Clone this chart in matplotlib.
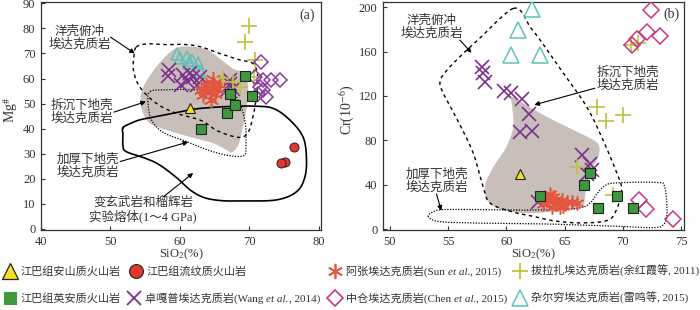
import numpy as np
import matplotlib
matplotlib.use("Agg")
import matplotlib.pyplot as plt
from matplotlib.lines import Line2D

plt.rcParams['font.family'] = ['Liberation Serif', 'Noto Sans CJK SC', 'DejaVu Sans']
plt.rcParams['mathtext.fontset'] = 'stix'

# ---------------- data: panel (a) SiO2 vs Mg# ----------------
a_andesite_x = [61.4]
a_andesite_y = [48.1]
a_rhyolite_x = [76.45, 75.07, 74.6]
a_rhyolite_y = [32.6, 26.9, 26.4]
a_dacite_x = [63.0, 66.7, 67.2, 67.9, 69.3, 70.4]
a_dacite_y = [39.7, 46.1, 53.8, 49.4, 60.8, 53.1]
a_azhang_x = [63.1, 63.8, 64.8, 64.3, 63.3, 65.3, 65.7, 64.5, 64.0, 65.0, 64.8, 63.6]
a_azhang_y = [55.4, 57.4, 58.0, 54.7, 53.4, 56.0, 57.4, 51.4, 56.7, 54.0, 60.0, 55.0]
a_zhuogapu_x = [58.4, 58.3, 60.5, 61.4, 61.9, 60.2, 62.85, 62.4, 61.0, 67.2, 66.7, 67.6, 67.2]
a_zhuogapu_y = [63.4, 61.0, 61.4, 62.3, 60.7, 57.4, 60.4, 57.4, 59.0, 58.0, 55.4, 56.0, 59.4]
a_zhongcang_x = [71.7, 70.75, 72.0, 73.1, 74.35, 72.0, 71.2, 72.4, 71.5]
a_zhongcang_y = [66.7, 60.7, 59.4, 59.4, 59.4, 55.4, 54.0, 52.7, 56.8]
a_balazha_x = [70.0, 69.3, 70.8, 66.2, 67.7, 68.6, 70.7]
a_balazha_y = [81.0, 74.5, 67.4, 60.2, 58.7, 56.7, 60.7]
a_zaerqiong_x = [59.6, 61.0, 61.8, 62.6, 62.9, 60.0, 61.3]
a_zaerqiong_y = [69.8, 68.7, 67.4, 66.1, 62.8, 68.1, 66.1]

# field outlines (a)
a_delam_x = [54.3, 54.8, 56.6, 59.0, 61.0, 63.8, 65.7, 67.6, 69.3, 69.8, 69.6, 69.0, 68.4, 67.5, 66.7, 64.8, 62.4, 58.6, 55.7, 54.6]
a_delam_y = [51.5, 57.0, 64.7, 71.4, 72.8, 71.6, 68.0, 64.0, 62.0, 56.7, 48.0, 40.0, 33.5, 30.6, 31.5, 34.2, 36.0, 39.0, 42.1, 47.0]
a_slab_x = [53.7, 55.2, 58.1, 60.5, 62.9, 65.7, 68.6, 70.5, 71.2, 71.0, 70.5, 69.8, 68.5, 65.5, 63.0, 59.5, 56.6, 54.2, 53.3, 53.4]
a_slab_y = [72.5, 73.8, 73.5, 73.6, 72.7, 70.0, 67.4, 66.0, 60.7, 52.7, 44.7, 38.5, 36.5, 39.0, 43.3, 46.1, 50.1, 56.7, 63.4, 69.0]
a_thick_x = [55.7, 58.0, 62.0, 67.2, 68.6, 69.4, 69.5, 69.2, 67.2, 64.3, 61.0, 57.6, 55.9, 55.4]
a_thick_y = [54.8, 55.5, 55.5, 54.1, 50.1, 42.1, 33.0, 29.3, 29.2, 31.2, 34.8, 38.5, 43.5, 50.5]
a_melt_x = [51.8, 53.0, 54.2, 56.5, 58.6, 61.4, 63.4, 66.7, 70.5, 73.4, 75.8, 77.7, 78.2, 78.0, 76.8, 73.9, 69.1, 66.0, 63.5, 61.5, 59.5, 57.1, 55.2, 52.3, 51.8, 51.8]
a_melt_y = [40.4, 42.2, 43.5, 44.8, 45.9, 47.5, 48.2, 48.8, 49.0, 48.1, 43.5, 36.8, 28.8, 20.9, 14.9, 11.6, 11.2, 11.3, 12.5, 15.5, 20.5, 25.5, 28.0, 30.8, 33.0, 37.5]

# ---------------- data: panel (b) SiO2 vs Cr ----------------
b_andesite_x = [61.17]
b_andesite_y = [50.0]
b_dacite_x = [62.9, 66.67, 67.18, 67.87, 69.47, 70.9]
b_dacite_y = [29.5, 40.0, 50.6, 19.3, 29.5, 19.3]
b_azhang_x = [63.17, 63.6, 64.03, 64.3, 64.75, 65.18, 65.6, 66.04, 63.9, 64.6, 63.75, 64.2, 63.4, 64.9]
b_azhang_y = [22.9, 25.9, 28.9, 22.9, 25.9, 24.4, 24.4, 23.5, 19.9, 19.9, 31.9, 26.5, 27.0, 21.0]
b_zhuogapu_x = [57.88, 57.96, 58.16, 59.8, 60.37, 61.3, 61.97, 61.17, 62.2, 66.5, 67.2, 67.33, 66.95, 62.74]
b_zhuogapu_y = [146.4, 141.0, 132.8, 124.7, 122.9, 116.9, 104.2, 87.7, 88.3, 66.6, 59.0, 53.0, 50.0, 24.4]
b_zhongcang_x = [72.42, 73.2, 72.05, 71.25, 70.76, 71.4, 71.99, 74.34]
b_zhongcang_y = [197.6, 174.0, 178.0, 171.0, 166.0, 26.0, 18.4, 9.3]
b_balazha_x = [67.75, 68.6, 69.99, 66.04, 69.2, 70.7, 71.3]
b_balazha_y = [110.0, 97.6, 103.3, 56.0, 31.0, 166.0, 168.0]
b_zaerqiong_x = [62.17, 60.97, 60.4, 62.9]
b_zaerqiong_y = [198.2, 179.5, 157.0, 157.0]

# field outlines (b)
b_delam_x = [60.45, 61.45, 63.46, 65.75, 67.47, 67.98, 67.9, 67.47, 67.0, 66.75, 66.5, 64.9, 62.0, 59.6, 58.4, 58.16, 58.9, 60.0, 60.6, 60.5]
b_delam_y = [119.4, 113.4, 101.3, 89.3, 80.3, 74.2, 65.2, 56.2, 44.2, 29.1, 19.5, 17.0, 14.3, 17.5, 25.5, 39.0, 56.2, 74.2, 92.3, 110.3]
b_slab_x = [60.6, 61.3, 62.0, 62.9, 64.9, 66.9, 68.3, 69.5, 69.9, 69.4, 68.6, 66.3, 64.0, 62.5, 60.5, 58.6, 58.0, 57.16, 55.87, 54.6, 54.3, 54.9, 56.3, 58.0, 59.45]
b_slab_y = [199.0, 196.0, 183.0, 170.5, 140.5, 110.3, 80.3, 50.2, 35.2, 16.0, 7.5, 5.5, 7.5, 11.0, 15.5, 23.4, 38.2, 68.3, 96.8, 122.0, 133.0, 143.4, 158.4, 175.0, 190.0]
b_thick_x = [53.3, 53.7, 54.6, 57.7, 61.0, 64.0, 66.3, 67.2, 67.8, 68.4, 69.3, 72.9, 73.6, 73.8, 73.5, 72.6, 69.5, 63.5, 57.7, 54.3]
b_thick_y = [11.0, 15.5, 17.5, 17.5, 17.0, 17.5, 19.0, 23.5, 32.0, 38.5, 41.5, 42.0, 38.0, 14.0, 4.0, 1.2, 2.5, 4.5, 5.3, 6.6]

# ---------------- legend labels (pieces: text, italic?) ----------------
lab_andesite = [('江巴组安山质火山岩', False)]
lab_dacite = [('江巴组英安质火山岩', False)]
lab_rhyolite = [('江巴组流纹质火山岩', False)]
lab_zhuogapu = [('卓嘎普埃达克质岩(Wang ', False), ('et al.', True), (', 2014)', False)]
lab_azhang = [('阿张埃达克质岩(Sun ', False), ('et al.', True), (', 2015)', False)]
lab_zhongcang = [('中仓埃达克质岩(Chen ', False), ('et al.', True), (', 2015)', False)]
lab_balazha = [('拔拉扎埃达克质岩(余红霞等, 2011)', False)]
lab_zaerqiong = [('杂尔穷埃达克质岩(雷鸣等, 2015)', False)]

# ---------------- styles ----------------
C_YEL = '#f5e11c'
C_RED = '#e8352b'
C_GRN = '#3a9a3c'
C_AST = '#e4553f'
C_PUR = '#7b2f8f'
C_DIA_A = '#8a3aa0'
C_DIA_B = '#cc3585'
C_PLUS = '#bcc43a'
C_CYAN = '#5cc3b8'
C_GRAY = '#c9bfba'
TXT = '#333333'
AST = (6, 2, 0)


def closed_spline(xs, ys, n=24):
    P = np.column_stack([xs, ys]).astype(float)
    N = len(P)
    t = np.linspace(0, 1, n, endpoint=False)[:, None]
    out = []
    for i in range(N):
        p0, p1, p2, p3 = P[(i - 1) % N], P[i], P[(i + 1) % N], P[(i + 2) % N]
        pts = 0.5 * ((2 * p1) + (-p0 + p2) * t + (2 * p0 - 5 * p1 + 4 * p2 - p3) * t ** 2
                     + (-p0 + 3 * p1 - 3 * p2 + p3) * t ** 3)
        out.append(pts)
    out = np.vstack(out + [P[:1]])
    return out[:, 0], out[:, 1]


fig = plt.figure(figsize=(7.0, 3.1), dpi=100)
axA = fig.add_axes([41 / 700, 80 / 310, 280 / 700, 228 / 310])
axB = fig.add_axes([383 / 700, 80 / 310, 301 / 700, 228 / 310])

for ax in (axA, axB):
    ax.tick_params(direction='in', length=3, width=0.8, labelsize=9, colors=TXT, pad=4)
    for s in ax.spines.values():
        s.set_linewidth(0.9)
        s.set_color('#333333')

# ---------- panel (a) ----------
ax = axA
x, y = closed_spline(a_delam_x, a_delam_y)
ax.fill(x, y, color=C_GRAY, lw=0, zorder=1)
x, y = closed_spline(a_slab_x, a_slab_y)
ax.plot(x, y, color='k', lw=1.0, ls=(0, (2.5, 2.5)), zorder=2)
x, y = closed_spline(a_thick_x, a_thick_y)
ax.plot(x, y, color='k', lw=0.9, ls=(0, (1, 1.2)), zorder=2)
x, y = closed_spline(a_melt_x, a_melt_y, n=16)
ax.plot(x, y, color='k', lw=1.2, zorder=2)

ax.plot(a_zaerqiong_x, a_zaerqiong_y, ls='none', marker='^', ms=9, mfc='none', mec=C_CYAN, mew=1.1, zorder=3)
ax.plot(a_zhuogapu_x, a_zhuogapu_y, ls='none', marker='x', ms=10, mec=C_PUR, mew=1.2, zorder=3)
ax.plot(a_azhang_x, a_azhang_y, ls='none', marker=AST, ms=11, mec=C_AST, mew=1.1, zorder=4)
ax.plot(a_balazha_x, a_balazha_y, ls='none', marker='+', ms=11, mec=C_PLUS, mew=1.2, zorder=4)
ax.plot(a_zhongcang_x, a_zhongcang_y, ls='none', marker='D', ms=7.5, mfc='none', mec=C_DIA_A, mew=1.1, zorder=4)
ax.plot(a_dacite_x, a_dacite_y, ls='none', marker='s', ms=6.5, mfc=C_GRN, mec='#222222', mew=0.8, zorder=5)
ax.plot(a_andesite_x, a_andesite_y, ls='none', marker='^', ms=6.5, mfc=C_YEL, mec='#222222', mew=0.8, zorder=5)
ax.plot(a_rhyolite_x, a_rhyolite_y, ls='none', marker='o', ms=6.5, mfc=C_RED, mec='#222222', mew=0.7, zorder=5)

arw = dict(arrowstyle='-|>', lw=0.8, color='k', mutation_scale=7, shrinkA=0, shrinkB=0)
tkw = dict(fontsize=9, color=TXT, ha='center', va='center', linespacing=1.05)
ax.text(45.6, 76.0, '洋壳俯冲\n埃达克质岩', **tkw)
ax.annotate('', xy=(53.5, 70.0), xytext=(50.0, 76.5), arrowprops=arw)
ax.text(45.9, 46.5, '拆沉下地壳\n埃达克质岩', **tkw)
ax.annotate('', xy=(55.1, 50.8), xytext=(50.5, 46.6), arrowprops=arw)
ax.text(46.8, 25.1, '加厚下地壳\n埃达克质岩', **tkw)
ax.annotate('', xy=(61.2, 34.7), xytext=(51.4, 26.9), arrowprops=arw)
ax.text(54.7, 7.6, '变玄武岩和榴辉岩\n实验熔体(1～4 GPa)', **tkw)
ax.annotate('', xy=(61.9, 22.3), xytext=(57.6, 12.8), arrowprops=arw)
ax.text(78.3, 85.3, '(a)', fontsize=10, color=TXT, ha='center', va='center')

ax.set_xlim(40, 80.3)
ax.set_ylim(-0.4, 90.5)
ax.set_xticks([40, 50, 60, 70, 80])
ax.set_yticks(range(0, 91, 10))

# ---------- panel (b) ----------
ax = axB
x, y = closed_spline(b_delam_x, b_delam_y)
ax.fill(x, y, color=C_GRAY, lw=0, zorder=1)
x, y = closed_spline(b_slab_x, b_slab_y)
ax.plot(x, y, color='k', lw=1.0, ls=(0, (2.5, 2.5)), zorder=2)
x, y = closed_spline(b_thick_x, b_thick_y)
ax.plot(x, y, color='k', lw=0.9, ls=(0, (1, 1.2)), zorder=2)

ax.plot(b_zaerqiong_x, b_zaerqiong_y, ls='none', marker='^', ms=11, mfc='none', mec=C_CYAN, mew=1.1, zorder=3)
ax.plot(b_zhuogapu_x, b_zhuogapu_y, ls='none', marker='x', ms=10, mec=C_PUR, mew=1.2, zorder=3)
ax.plot(b_azhang_x, b_azhang_y, ls='none', marker=AST, ms=10, mec=C_AST, mew=1.1, zorder=4)
ax.plot(b_balazha_x, b_balazha_y, ls='none', marker='+', ms=11, mec=C_PLUS, mew=1.2, zorder=4)
ax.plot(b_zhongcang_x, b_zhongcang_y, ls='none', marker='D', ms=8, mfc='none', mec=C_DIA_B, mew=1.1, zorder=4)
ax.plot(b_dacite_x, b_dacite_y, ls='none', marker='s', ms=6.5, mfc=C_GRN, mec='#222222', mew=0.8, zorder=5)
ax.plot(b_andesite_x, b_andesite_y, ls='none', marker='^', ms=6.5, mfc=C_YEL, mec='#222222', mew=0.8, zorder=5)

ax.text(53.6, 182, '洋壳俯冲\n埃达克质岩', **tkw)
ax.annotate('', xy=(57.0, 159), xytext=(56.0, 170.5), arrowprops=arw)
ax.text(70.4, 135, '拆沉下地壳\n埃达克质岩', **tkw)
ax.annotate('', xy=(62.4, 112), xytext=(67.6, 127), arrowprops=arw)
ax.text(54.0, 43, '加厚下地壳\n埃达克质岩', **tkw)
ax.annotate('', xy=(54.4, 16.5), xytext=(54.0, 31.5), arrowprops=arw)
ax.text(74.2, 194, '(b)', fontsize=10, color=TXT, ha='center', va='center')

ax.set_xlim(49.4, 75.26)
ax.set_ylim(-0.9, 204.8)
ax.set_xticks([50, 55, 60, 65, 70, 75])
ax.set_yticks(range(0, 201, 40))

# ---------- axis labels ----------
fig.text(181 / 700, 1 - 254 / 310, 'SiO$_2$(%)', fontsize=9, color=TXT, ha='center', va='center')
fig.text(533 / 700, 1 - 254 / 310, 'SiO$_2$(%)', fontsize=9, color=TXT, ha='center', va='center')
fig.text(11 / 700, 1 - 110 / 310, 'Mg$^{\\#}$', fontsize=10, color=TXT, ha='center', va='center', rotation=90)
fig.text(347 / 700, 1 - 110 / 310, 'Cr(10$^{-6}$)', fontsize=10, color=TXT, ha='center', va='center', rotation=90)

# ---------- legend ----------
renderer = fig.canvas.get_renderer()


def leg(px, py, marker, pieces, ms, **kw):
    fy = 1 - py / 310
    fig.add_artist(Line2D([px / 700], [fy], transform=fig.transFigure, ls='none',
                          marker=marker, ms=ms, **kw))
    cur = (px + 11) / 700
    base = 1 - (py + 4) / 310
    for s, ital in pieces:
        t = fig.text(cur, base, s, fontsize=8, color=TXT, ha='left', va='baseline',
                     style='italic' if ital else 'normal')
        bb = t.get_window_extent(renderer=renderer)
        cur += bb.width / fig.bbox.width


r1, r2 = 271, 298
leg(10, r1, '^', lab_andesite, 11, mfc=C_YEL, mec='#222222', mew=0.9)
leg(10, r2, 's', lab_dacite, 9, mfc=C_GRN, mec=C_GRN, mew=0.8)
leg(136, r1, 'o', lab_rhyolite, 10, mfc=C_RED, mec='#222222', mew=0.8)
leg(134, r2, 'x', lab_zhuogapu, 10, mec=C_PUR, mew=1.3)
leg(335, r1, AST, lab_azhang, 11, mec=C_AST, mew=1.2)
leg(335, r2, 'D', lab_zhongcang, 8, mfc='none', mec=C_DIA_B, mew=1.2)
leg(520, r1, '+', lab_balazha, 11, mec=C_PLUS, mew=1.3)
leg(520, r2, '^', lab_zaerqiong, 11, mfc='none', mec=C_CYAN, mew=1.1)

fig.savefig('out.png', dpi=100)
